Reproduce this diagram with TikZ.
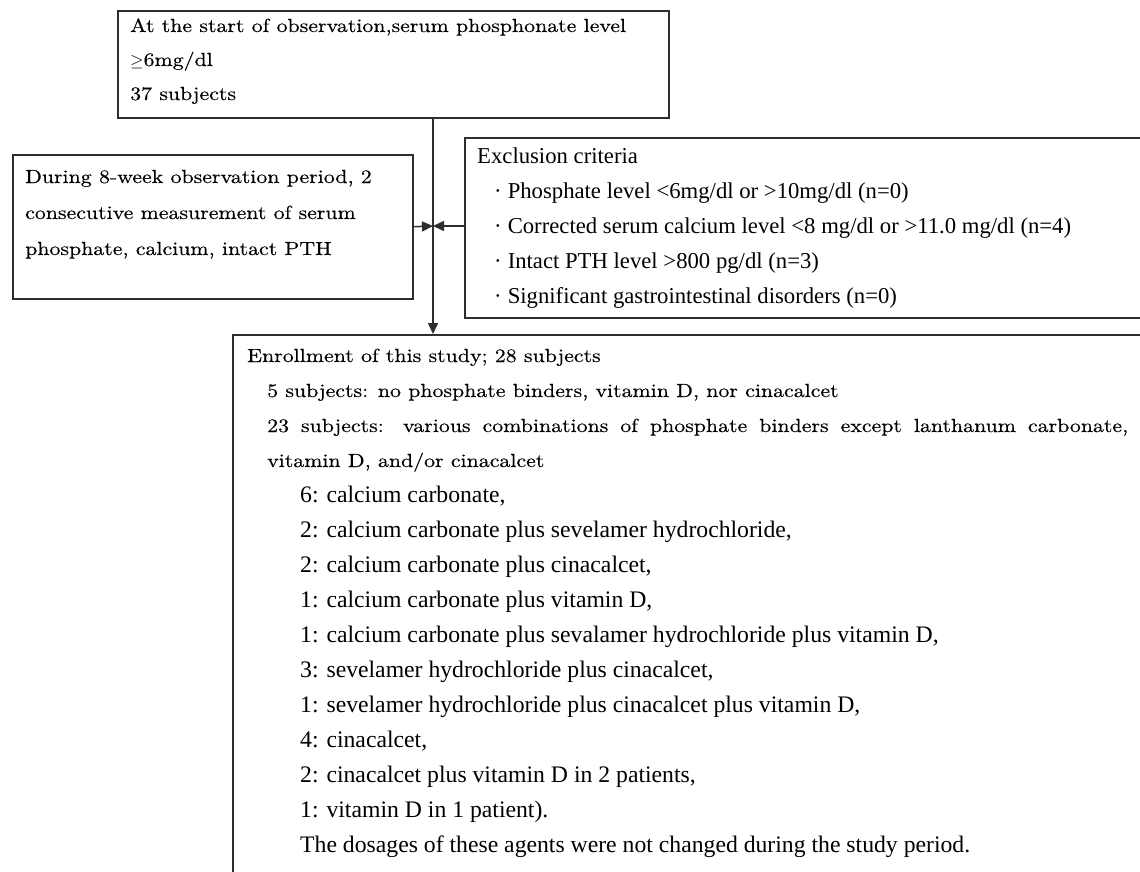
\documentclass[tikz,border=0pt]{standalone}
\usepackage{fontspec}
\usepackage{tikz}
\usetikzlibrary{arrows.meta}
\setmainfont{Liberation Serif}
\newfontfamily\mincho[FakeStretch=1.15, FakeBold=0.3]{lmroman10-regular.otf}
\definecolor{box gray}{rgb}{0.18, 0.18, 0.18}

\begin{document}
\begin{tikzpicture}[x=1pt, y=-1pt,
		box/.style={draw=box gray, line width=1.5pt, inner sep=0pt, anchor=north west},
		mtxt/.style={inner sep=0pt, anchor=base west, font=\mincho\fontsize{19}{19}\selectfont},
		ttxt/.style={inner sep=0pt, anchor=base west, font=\fontsize{23.7}{23.7}\selectfont},
		etxt/.style={inner sep=0pt, anchor=base west, font=\fontsize{22.7}{22.7}\selectfont},
		arr/.style={draw=box gray, line width=1.5pt, -{Triangle[length=11pt, width=10pt]}}]
			\useasboundingbox (0,0) rectangle (1140,871);
			\clip (0,0) rectangle (1140,871);
			% boxes
			\node[box, minimum width=551pt, minimum height=107pt] (start) at (117,10) {};
			\node[box, minimum width=400pt, minimum height=144pt] (obs) at (12,154) {};
			\node[box, minimum width=720pt, minimum height=180pt] (excl) at (464,137) {};
			\node[box, minimum width=960pt, minimum height=600pt] (enrol) at (232,334) {};
			% connectors
			\coordinate (join) at (433,226);
			\draw[arr] (start.south -| join) -- (enrol.north -| join);
			\draw[arr] (obs.east) -- (join);
			\draw[arr] (excl.west |- join) -- (join);
			% part for the start
			\node[mtxt] (s1) at (130,32) {At the start of observation,serum phosphonate level};
			\node[mtxt] (s2) at (130,66) {$\geq$6mg/dl};
			\node[mtxt] (s3) at (130,100) {37 subjects};
			% part for the observation period
			\node[mtxt] (o1) at (25,183) {During 8-week observation period, 2};
			\node[mtxt] (o2) at (25,219) {consecutive measurement of serum};
			\node[mtxt] (o3) at (25,255) {phosphate, calcium, intact PTH};
			% part for exclusion
			\node[etxt] (x0) at (477,163) {Exclusion criteria};
			\node[etxt] (x1) at (494,198) {·\hspace{6pt}Phosphate level <6mg/dl or >10mg/dl (n=0)};
			\node[etxt] (x2) at (494,233) {·\hspace{6pt}Corrected serum calcium level <8 mg/dl or >11.0 mg/dl (n=4)};
			\node[etxt] (x3) at (494,268) {·\hspace{6pt}Intact PTH level >800 pg/dl (n=3)};
			\node[etxt] (x4) at (494,303) {·\hspace{6pt}Significant gastrointestinal disorders (n=0)};
			% part for enrollment
			\node[mtxt] (e1) at (247,362) {Enrollment of this study; 28 subjects};
			\node[mtxt] (e2) at (267,397) {5 subjects: no phosphate binders, vitamin D, nor cinacalcet};
			\node[mtxt] (e3) at (267,432) {\makebox[861pt][s]{23 subjects: various combinations of phosphate binders except lanthanum carbonate,}};
			\node[mtxt] (e4) at (267,467) {vitamin D, and/or cinacalcet};
			\node[ttxt] (l1) at (300,502) {6: calcium carbonate,};
			\node[ttxt] (l2) at (300,537) {2: calcium carbonate plus sevelamer hydrochloride,};
			\node[ttxt] (l3) at (300,572) {2: calcium carbonate plus cinacalcet,};
			\node[ttxt] (l4) at (300,607) {1: calcium carbonate plus vitamin D,};
			\node[ttxt] (l5) at (300,642) {1: calcium carbonate plus sevalamer hydrochloride plus vitamin D,};
			\node[ttxt] (l6) at (300,677) {3: sevelamer hydrochloride plus cinacalcet,};
			\node[ttxt] (l7) at (300,712) {1: sevelamer hydrochloride plus cinacalcet plus vitamin D,};
			\node[ttxt] (l8) at (300,747) {4: cinacalcet,};
			\node[ttxt] (l9) at (300,782) {2: cinacalcet plus vitamin D in 2 patients,};
			\node[ttxt] (l10) at (300,817) {1: vitamin D in 1 patient).};
			\node[ttxt] (l11) at (300,852) {The dosages of these agents were not changed during the study period.};
\end{tikzpicture}
\end{document}
